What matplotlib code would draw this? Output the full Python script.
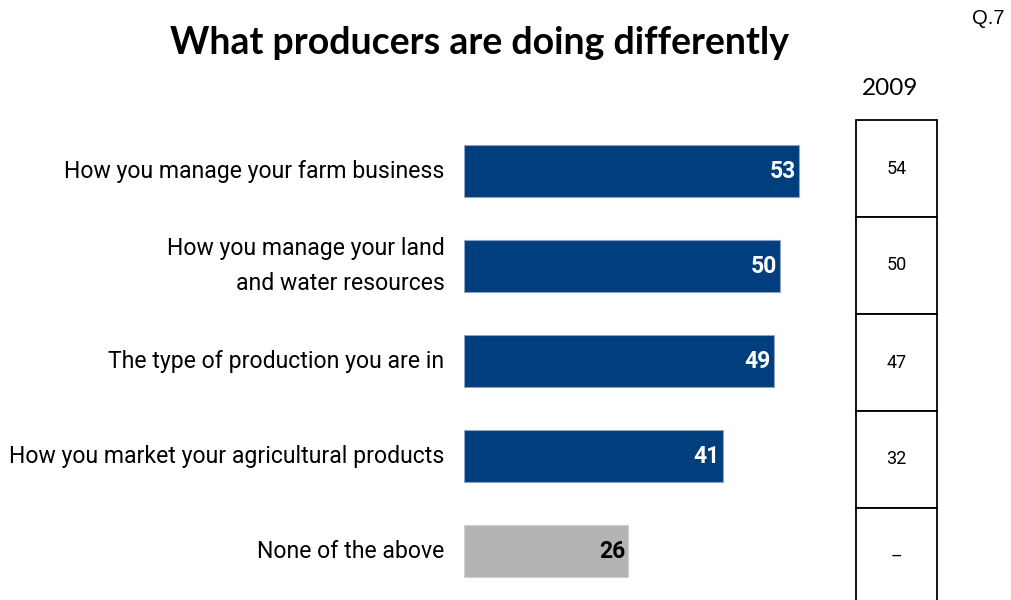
import matplotlib
matplotlib.use("Agg")
import matplotlib.pyplot as plt
from matplotlib.patches import Rectangle

# Survey responses (percent)
categories = [
    "How you manage your farm business",
    "How you manage your land\nand water resources",
    "The type of production you are in",
    "How you market your agricultural products",
    "None of the above",
]
values_current = [53, 50, 49, 41, 26]
values_2009 = ["54", "50", "47", "32", "\u2013"]
title = "What producers are doing differently"
question_ref = "Q.7"
year_label = "2009"

NARROW = ["Roboto", "DejaVu Sans"]
HEAD = ["Lato", "DejaVu Sans"]
BLUE = "#003E7E"
GREY = "#B3B3B3"

W, H = 1011, 600
fig = plt.figure(figsize=(W / 100, H / 100), dpi=100)

def fig_rect(x0, y0, x1, y1):
    """Convert pixel box (top-left origin) to figure fraction rect."""
    return [x0 / W, 1 - y1 / H, (x1 - x0) / W, (y1 - y0) / H]

# Bar axes: 0..60 maps across 379 px
ax = fig.add_axes(fig_rect(464, 123.5, 464 + 6.32 * 60, 598.5))
ax.set_xlim(0, 60)
n = len(categories)
ax.set_ylim(n - 0.5, -0.5)
ax.axis("off")

ypos = list(range(n))
colors = [BLUE] * (n - 1) + [GREY]
edges = ["#8FA4C2"] * (n - 1) + ["#D0D0D0"]
ax.barh(ypos, values_current, height=0.55, color=colors, edgecolor=edges,
        linewidth=0.8)

for y, v, c, lab in zip(ypos, values_current, colors, categories):
    tc = "white" if c == BLUE else "black"
    ax.text(v - 0.5, y, str(v), ha="right", va="center", color=tc,
            fontsize=16.5, fontweight="bold", family=NARROW)
    ax.text(-3.1, y, lab, ha="right", va="center", color="black",
            fontsize=16.6, family=NARROW, linespacing=1.65)

# 2009 comparison column
tax = fig.add_axes(fig_rect(856, 120, 937, 605))
tax.set_xlim(0, 1)
tax.set_ylim(n, 0)
tax.axis("off")
for i, s in enumerate(values_2009):
    tax.add_patch(Rectangle((0, i), 1, 1, facecolor="white",
                            edgecolor="black", linewidth=1.3, clip_on=False))
    tax.text(0.5, i + 0.5, s, ha="center", va="center", fontsize=13,
             family=NARROW)

fig.text(890 / W, 1 - 88 / H, year_label, ha="center", va="center",
         fontsize=17.5, family=HEAD)
fig.text(480 / W, 1 - 43 / H, title, ha="center", va="center",
         fontsize=27, fontweight="bold", family=HEAD)
fig.text(988 / W, 1 - 19 / H, question_ref, ha="center", va="center",
         fontsize=14.5, family=["Liberation Sans", "DejaVu Sans"])

fig.savefig("out.png", dpi=100)
